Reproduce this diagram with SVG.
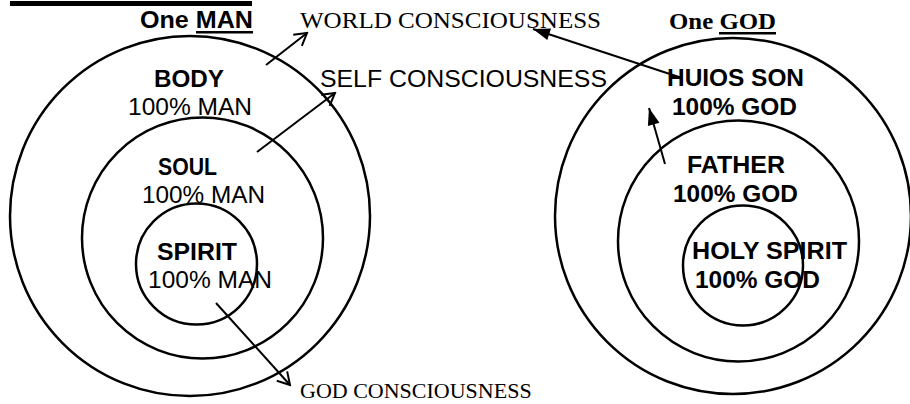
<svg xmlns="http://www.w3.org/2000/svg" width="910" height="404" viewBox="0 0 910 404">
<style>
.ring{fill:none;stroke:#000;stroke-width:2.5}
.sb{font-family:"Liberation Sans",Arial,sans-serif;font-weight:bold;font-size:24px;fill:#000}
.sr{font-family:"Liberation Sans",Arial,sans-serif;font-size:24px;fill:#000}
.tr{font-family:"Liberation Serif","Times New Roman",serif;font-size:24px;fill:#000}
.tb{font-family:"Liberation Serif","Times New Roman",serif;font-weight:bold;font-size:24px;fill:#000}
.ln{stroke:#000;stroke-width:2;fill:none}
</style>
<defs>
<marker id="open" viewBox="-14 -9 16 18" refX="0" refY="0" markerWidth="16" markerHeight="18" markerUnits="userSpaceOnUse" orient="auto">
<path d="M-12,-7 L0,0 L-12,7" fill="none" stroke="#000" stroke-width="2"/>
</marker>
<marker id="solid" viewBox="-18 -8 19 16" refX="0" refY="0" markerWidth="19" markerHeight="16" markerUnits="userSpaceOnUse" orient="auto">
<path d="M-17,-6 L0,0 L-17,6 Z" fill="#000"/>
</marker>
</defs>
<rect x="10" y="1" width="242" height="5" fill="#000"/>
<g id="titles">
<text class="sb" x="140" y="28" textLength="113" lengthAdjust="spacingAndGlyphs">One MAN</text>
<rect x="196" y="31" width="57" height="2.5" fill="#000"/>
<text class="tr" x="300" y="28" textLength="301" lengthAdjust="spacingAndGlyphs">WORLD CONSCIOUSNESS</text>
<text class="tb" x="669" y="29" textLength="107" lengthAdjust="spacingAndGlyphs">One GOD</text>
<rect x="719" y="32" width="57" height="2.5" fill="#000"/>
<text class="sr" x="320" y="87" textLength="287" lengthAdjust="spacingAndGlyphs">SELF CONSCIOUSNESS</text>
<text class="tr" x="300" y="398" style="font-size:22px">GOD CONSCIOUSNESS</text>
</g>
<g id="body">
<circle class="ring" cx="190" cy="216" r="180"/>
<text class="sb" x="154" y="87" textLength="70" lengthAdjust="spacingAndGlyphs">BODY</text>
<text class="sr" x="128" y="115" textLength="124" lengthAdjust="spacingAndGlyphs">100% MAN</text>
</g>
<g id="soul">
<circle class="ring" cx="202.5" cy="238" r="120.5"/>
<text class="sb" x="158" y="175" textLength="59" lengthAdjust="spacingAndGlyphs">SOUL</text>
<text class="sr" x="142" y="203" textLength="123" lengthAdjust="spacingAndGlyphs">100% MAN</text>
</g>
<g id="spirit">
<circle class="ring" cx="196.5" cy="264" r="60.5"/>
<text class="sb" x="157" y="260" textLength="80" lengthAdjust="spacingAndGlyphs">SPIRIT</text>
<text class="sr" x="148" y="288" textLength="124" lengthAdjust="spacingAndGlyphs">100% MAN</text>
</g>
<g id="huios-son">
<circle class="ring" cx="733" cy="216" r="178"/>
<text class="sb" x="667" y="86" textLength="137" lengthAdjust="spacingAndGlyphs">HUIOS SON</text>
<text class="sb" x="672" y="115" textLength="125" lengthAdjust="spacingAndGlyphs">100% GOD</text>
</g>
<g id="father">
<circle class="ring" cx="738.5" cy="241" r="120.5"/>
<text class="sb" x="687" y="173" textLength="98" lengthAdjust="spacingAndGlyphs">FATHER</text>
<text class="sb" x="673" y="202" textLength="125" lengthAdjust="spacingAndGlyphs">100% GOD</text>
</g>
<g id="holy-spirit">
<circle class="ring" cx="743" cy="265.5" r="60"/>
<text class="sb" x="692" y="259" textLength="155" lengthAdjust="spacingAndGlyphs">HOLY SPIRIT</text>
<text class="sb" x="695" y="288" textLength="125" lengthAdjust="spacingAndGlyphs">100% GOD</text>
</g>
<g id="connectors">
<line class="ln" x1="266" y1="65" x2="307" y2="33" marker-end="url(#open)"/>
<line class="ln" x1="257" y1="152" x2="335" y2="93" marker-end="url(#open)"/>
<line class="ln" x1="216" y1="303" x2="290" y2="385" marker-end="url(#open)"/>
<line class="ln" x1="682" y1="78" x2="533" y2="29" marker-end="url(#solid)"/>
<line class="ln" x1="665" y1="164" x2="649" y2="108" marker-end="url(#solid)"/>
</g>
</svg>
